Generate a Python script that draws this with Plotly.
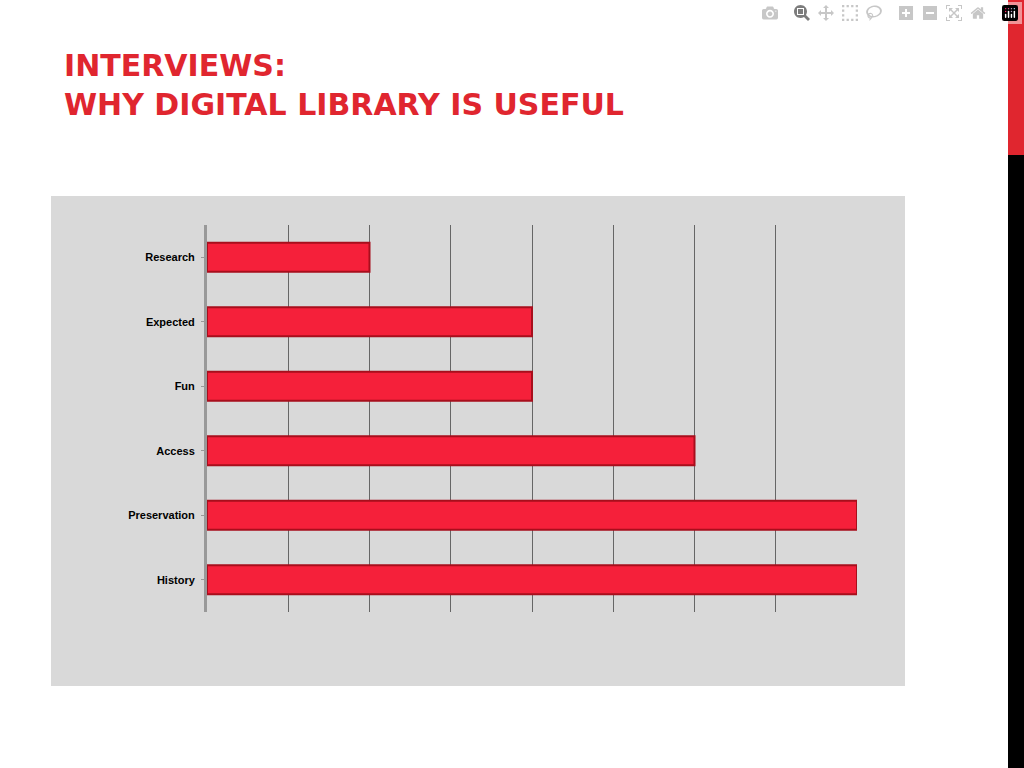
import plotly.graph_objects as go

categories = ["Research", "Expected", "Fun", "Access", "Preservation", "History"]
values = [2, 4, 4, 6, 8, 8]
x_max = 8

W, H = 1024, 768


def px(x):
    return x / W


def py(y):
    return 1 - y / H


fig = go.Figure(go.Bar(
    y=categories, x=values, orientation="h", width=0.45,
    marker=dict(color="#F5203A", line=dict(color="#A80E1C", width=2)),
))

fig.update_layout(
    width=W, height=H, margin=dict(l=0, r=0, t=0, b=0),
    paper_bgcolor="white", plot_bgcolor="rgba(0,0,0,0)", showlegend=False,
    font=dict(family="Liberation Sans, Arial", color="black"),
    xaxis=dict(domain=[px(207), px(857)], range=[0, x_max], dtick=1,
               showticklabels=False, showgrid=True, gridcolor="#666666",
               gridwidth=1, zeroline=False, showline=False),
    yaxis=dict(domain=[py(612), py(225)], autorange="reversed",
               tickfont=dict(size=11, family="Liberation Sans, Arial"),
               ticklabelstandoff=4,
               showline=True, linecolor="#999999", linewidth=3,
               showgrid=False, ticks="outside", tickcolor="#999999", ticklen=3),
    shapes=[
        dict(type="rect", xref="paper", yref="paper", layer="below",
             x0=px(51), x1=px(905), y0=py(686), y1=py(196),
             fillcolor="#D9D9D9", line=dict(width=0)),
        dict(type="rect", xref="paper", yref="paper",
             x0=px(1008), x1=1, y0=py(155), y1=1,
             fillcolor="#E0262F", line=dict(width=0)),
        dict(type="rect", xref="paper", yref="paper",
             x0=px(1008), x1=1, y0=0, y1=py(155),
             fillcolor="black", line=dict(width=0)),
    ],
    annotations=[dict(
        text="<b>INTERVIEWS:<br>WHY DIGITAL LIBRARY IS USEFUL</b>",
        xref="paper", yref="paper", x=px(62), y=py(46), xanchor="left",
        yanchor="top", align="left", showarrow=False,
        font=dict(size=30, color="#E0262F", family="DejaVu Sans, Arial"),
    )],
)
for i, c in enumerate(categories):
    fig.layout.yaxis.ticktext = None
fig.update_yaxes(tickvals=categories, ticktext=["<b>%s</b>" % c for c in categories])

fig.write_html("out.html",
               post_script="document.body.style.margin='0';document.body.style.overflow='hidden';")
